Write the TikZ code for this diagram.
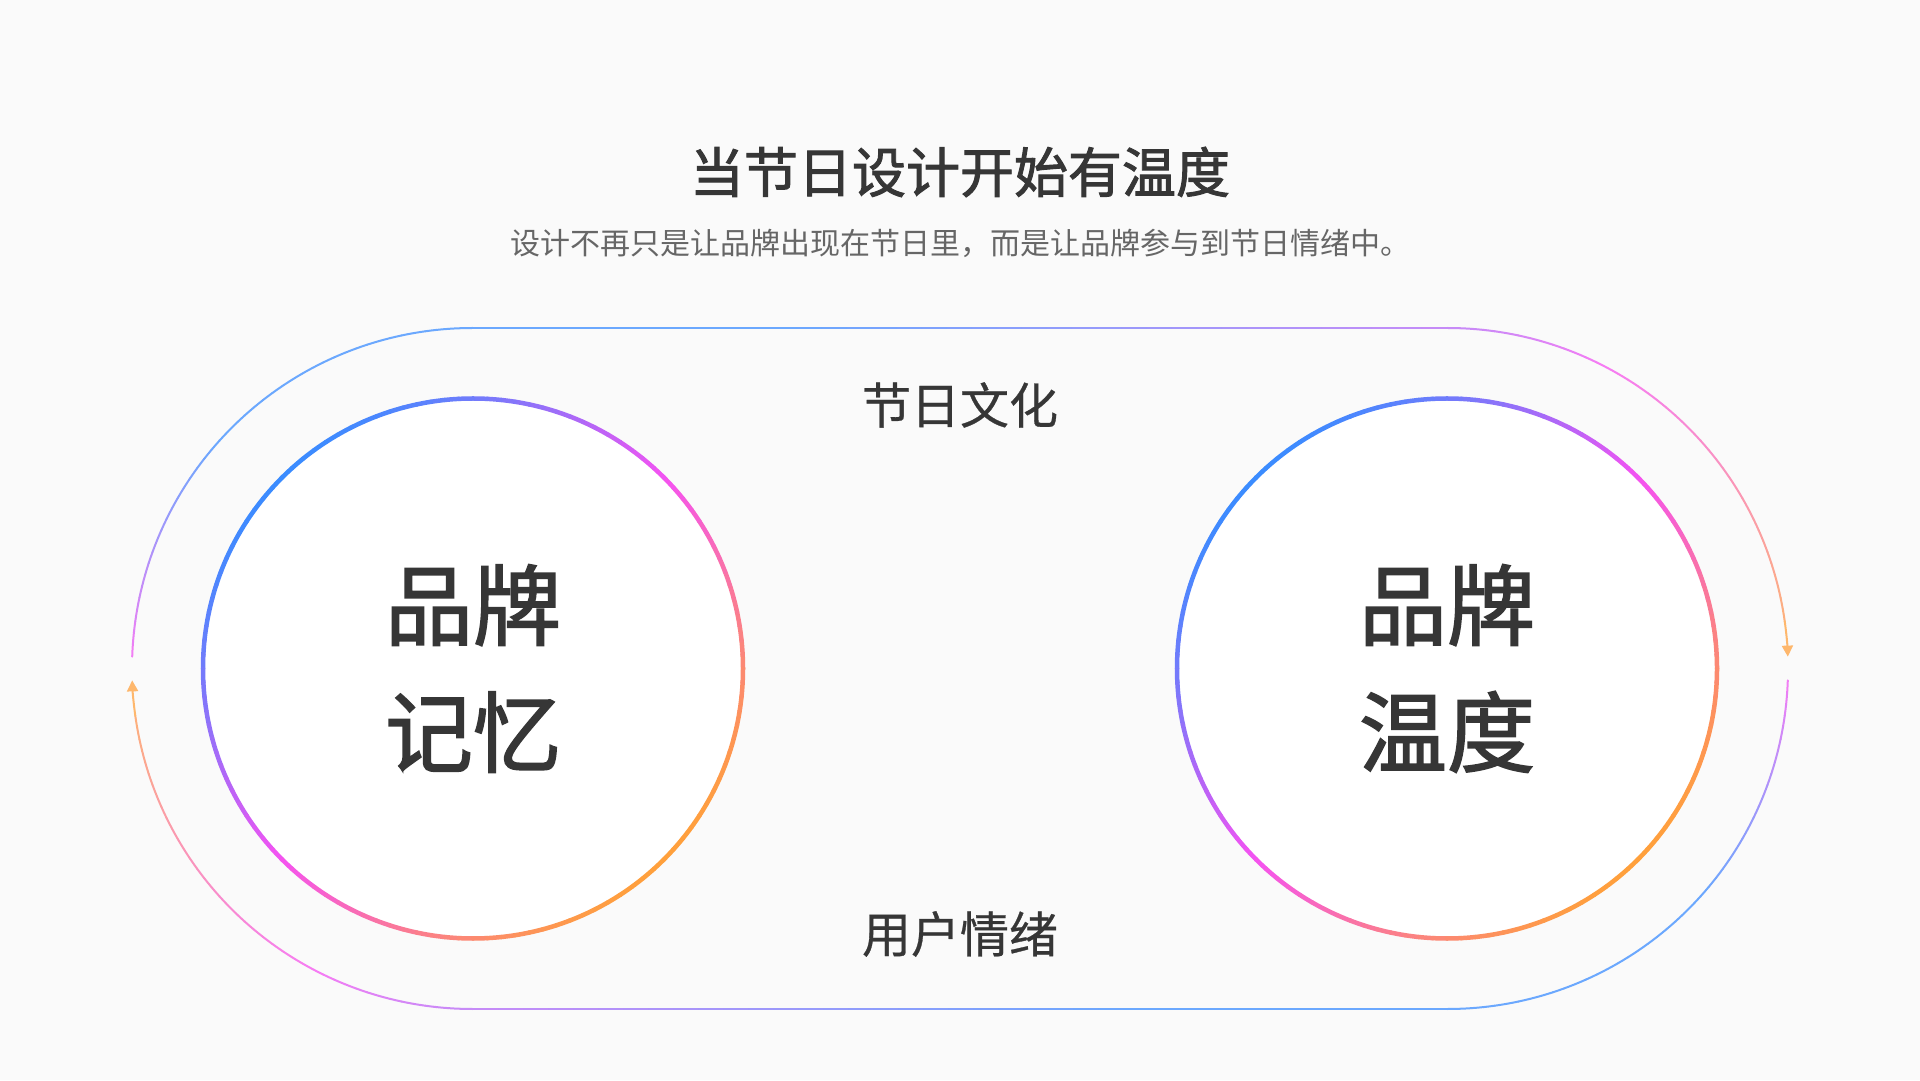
\documentclass[tikz,border=0pt]{standalone}
\usepackage{fontspec}
\setmainfont{Noto Sans CJK SC}
\newfontfamily\headfont[FakeBold=1.8]{Noto Sans CJK SC}
\newfontfamily\labelfont[FakeBold=0.6]{Noto Sans CJK SC}
\usepackage{xcolor}
\usepackage{tikz}
\definecolor{pagebg}{RGB}{250,250,250}
\definecolor{inkdark}{RGB}{54,54,54}
\definecolor{inkgrey}{RGB}{102,102,102}
\definecolor{gradblue}{RGB}{59,140,255}
\definecolor{gradmagenta}{RGB}{245,82,242}
\definecolor{gradorange}{RGB}{255,160,60}
\usetikzlibrary{arrows.meta, positioning, calc}

\newcommand\setgradcolor[1]{%
  \pgfmathsetmacro\gradA{min(max((#1)*200,0),100)}%
  \pgfmathsetmacro\gradB{100-min(max((#1)*200-100,0),100)}%
  \colorlet{gradnow}{gradmagenta!\gradA!gradblue!\gradB!gradorange}}

\begin{document}
\begin{tikzpicture}[x=1pt, y=1pt,
    titletext/.style={text=inkdark, font=\fontsize{54}{60}\headfont},
    subtext/.style={text=inkgrey, font=\fontsize{30}{34}\selectfont},
    looplabel/.style={text=inkdark, font=\fontsize{49}{56}\labelfont},
    bubble/.style={circle, fill=white, minimum size=540, inner sep=0pt, align=center,
                   text=inkdark, font=\fontsize{88}{127}\headfont},
    loopline/.style={line width=2, line cap=round}]

    \useasboundingbox[fill=pagebg] (0,0) rectangle (1920,1080);

    \node[titletext] (title) at (960,908) {当节日设计开始有温度};
    \node[subtext] (subtitle) at (960,837) {设计不再只是让品牌出现在节日里，而是让品牌参与到节日情绪中。};

    \node[bubble] (memory) at (473,411.5) {品牌\\记忆};
    \node[bubble] (warmth) at (1447,411.5) {品牌\\温度};

    \node[looplabel] (culture) at (960,675) {节日文化};
    \node[looplabel] (emotion) at (960,146) {用户情绪};

    % gradient rings round the two bubbles
    \foreach \c in {memory, warmth}
      \foreach \a in {0,3,...,357} {
        \pgfmathsetmacro\gradT{((2+cos(\a+1.5)-sin(\a+1.5))/4-0.146)/0.708}
        \setgradcolor{\gradT}
        \draw[gradnow, line width=4.5, line cap=round] (\c.center) ++(\a:270)
          arc[start angle=\a, delta angle=3, radius=270];
      }

    % outer loop, upper half and its copy turned by 180
    \foreach \r in {0,180} {
      \begin{scope}[rotate around={\r:(960,411.5)}]
        \foreach \a in {178,176,...,92} {
          \pgfmathsetmacro\gradT{((340.5+340.5*cos(\a-1))/1656 + (340.5-340.5*sin(\a-1))/330)/2}
          \pgfmathsetmacro\gradT{ifthenelse(\gradT<0.5,(\gradT-0.2)/0.6,\gradT)}
          \setgradcolor{\gradT}
          \draw[loopline, gradnow!75!pagebg] (472.5,411.5) ++(\a:340.5)
            arc[start angle=\a, delta angle=-2, radius=340.5];
        }
        \foreach \x in {472.5,497.5,...,1422.5} {
          \pgfmathsetmacro\gradT{(\x+12.5-132)/1656/2}
          \pgfmathsetmacro\gradT{ifthenelse(\gradT<0.5,(\gradT-0.2)/0.6,\gradT)}
          \setgradcolor{\gradT}
          \draw[loopline, gradnow!75!pagebg] (\x,752) -- (\x+25,752);
        }
        \foreach \a in {90,88,...,10} {
          \pgfmathsetmacro\gradT{((1315.5+340.5*cos(\a-1))/1656 + (340.5-340.5*sin(\a-1))/330)/2}
          \pgfmathsetmacro\gradT{ifthenelse(\gradT<0.5,(\gradT-0.2)/0.6,\gradT)}
          \setgradcolor{\gradT}
          \draw[loopline, gradnow!75!pagebg] (1447.5,411.5) ++(\a:340.5)
            arc[start angle=\a, delta angle=-2, radius=340.5];
        }
        \setgradcolor{1}
        \draw[loopline, gradnow!75!pagebg, -{Triangle[length=11pt, width=11pt]}]
          (1447.5,411.5) ++(8:340.5) arc[start angle=8, delta angle=-6, radius=340.5];
      \end{scope}
    }
\end{tikzpicture}
\end{document}
